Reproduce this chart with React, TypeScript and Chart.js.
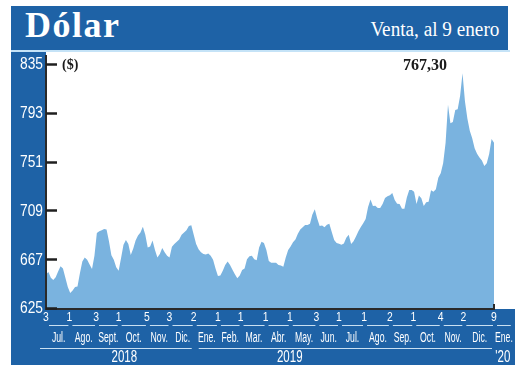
import React, { useEffect, useRef } from 'react';
import { Chart, registerables } from 'chart.js';

Chart.register(...registerables);

// ---------- data ----------
const startDate = '2018-07-03';
const endDate = '2020-01-09';
const sampleStepDays = 3;
const dollarValues: number[] = [
  654, 656, 651, 649, 651.5, 656.5, 661, 659, 651, 643,
  638, 640, 643, 643.5, 655, 665, 668.5, 666.5, 662.5, 658.5,
  670, 689.5, 691, 692, 693, 692.5, 682.5, 670.5, 666.5, 660,
  657, 668, 679.5, 683.5, 680, 670.6, 676, 683, 687.5, 690,
  695, 688, 677, 678, 683, 675, 668.5, 671.5, 676.6, 673,
  670, 668.5, 677.7, 680, 682, 684, 688, 690, 692, 695.5,
  696.3, 688, 680, 675.5, 673, 671.5, 671, 672, 670, 666.5,
  659, 652.5, 653, 657, 662, 665, 662, 658, 654, 650.5,
  653, 657.8, 659, 667, 669.5, 670, 667, 666, 677, 682,
  681, 675, 665.5, 664, 664, 664, 662, 661.5, 660.5, 668.5,
  675, 678, 681.5, 684, 689, 692.5, 694.5, 696.4, 696.5, 697.5,
  705.5, 710, 702, 695.5, 696, 694.5, 696.7, 697.5, 690.5, 683.5,
  681, 680.3, 679.5, 680.5, 685.5, 688, 680, 682.5, 686.5, 691,
  694.7, 698, 701.5, 712, 718.3, 712.8, 713, 711, 711, 714.5,
  719.6, 721.2, 722, 724, 718, 714.7, 714.5, 710.5, 710.5, 720,
  726.6, 726.6, 725, 714.5, 721.8, 719.5, 712.8, 716, 716.5, 726.4,
  725.1, 727.3, 737, 741, 749.5, 767, 800, 784, 785, 795.5,
  796, 807.5, 827, 803, 788, 777.5, 771, 762.5, 757.8, 754.5,
  752, 747.2, 749.5, 757.5, 770.5, 767.3,
];
const yTickValues = [625, 667, 709, 751, 793, 835];
const tickDates = [
  '2018-07-03', '2018-08-01', '2018-09-03', '2018-10-01', '2018-11-05', '2018-12-03',
  '2019-01-02', '2019-02-01', '2019-03-01', '2019-04-01', '2019-05-01', '2019-06-03',
  '2019-07-01', '2019-08-01', '2019-09-02', '2019-10-01', '2019-11-04', '2019-12-02',
  '2020-01-09',
];
const monthNames = [
  'Jul.', 'Ago.', 'Sept.', 'Oct.', 'Nov.', 'Dic.', 'Ene.', 'Feb.', 'Mar.', 'Abr.',
  'May.', 'Jun.', 'Jul.', 'Ago.', 'Sep.', 'Oct.', 'Nov.', 'Dic.', 'Ene.',
];
const lastMonthEnd = '2020-01-31';
const yearNames = ['2018', '2019', "'20"];
const yearFirstMonth = [0, 6, 18];
const yearLabelDates = ['2018-10-08', '2019-05-01', '2020-01-20'];
const titleText = 'Dólar';
const subtitleText = 'Venta, al 9 enero';
const unitText = '($)';
const lastValueText = '767,30';

// ---------- helpers ----------
const dayOf = (s: string) => Math.round((Date.parse(s) - Date.parse(startDate)) / 86400000);
const lastDay = dayOf(endDate);
const points = dollarValues.map((v, i) => ({ x: Math.min(i * sampleStepDays, lastDay), y: v }));
const tickDays = tickDates.map(dayOf);
const tickLabels = tickDates.map((d) => String(Number(d.slice(8, 10))));
const monthBounds = [...tickDays, dayOf(lastMonthEnd)];

const BLUE = '#1e62a6';
const AREA = '#7ab3df';
const LINE_LIGHT = '#c9e0f2';
const SANS = '"Liberation Sans", Arial, sans-serif';
const SERIF = '"Liberation Serif", "Times New Roman", serif';

function narrowText(ctx: CanvasRenderingContext2D, text: string, x: number, y: number, sx: number) {
  ctx.save();
  ctx.translate(x, y);
  ctx.scale(sx, 1);
  ctx.fillText(text, 0, 0);
  ctx.restore();
}

const axisPlugin = {
  id: 'customAxes',
  afterDraw(chart: any) {
    const { ctx, chartArea, scales } = chart;
    const xs = scales.x;
    const ys = scales.y;
    const { left, right, bottom, top } = chartArea;
    ctx.save();
    // axis lines
    ctx.strokeStyle = '#2a2a2a';
    ctx.lineWidth = 2;
    ctx.beginPath();
    ctx.moveTo(left, top - 9);
    ctx.lineTo(left, bottom + 1);
    ctx.lineTo(right, bottom + 1);
    ctx.lineTo(right, bottom - 4);
    ctx.stroke();
    // y tick marks inside the plot and y labels
    ctx.lineWidth = 2.5;
    ctx.strokeStyle = '#1f1f1f';
    ctx.fillStyle = '#ffffff';
    ctx.font = `16px ${SANS}`;
    ctx.textAlign = 'right';
    ctx.textBaseline = 'middle';
    yTickValues.forEach((v) => {
      const yp = ys.getPixelForValue(v);
      const y = Math.round(yp) + 0.5;
      ctx.beginPath();
      ctx.moveTo(left, y);
      ctx.lineTo(left + 11, y);
      ctx.stroke();
      narrowText(ctx, String(v), left - 3, yp + 1, 0.86);
    });
    ctx.textAlign = 'center';
    // day numbers at month starts
    ctx.font = `13px ${SANS}`;
    tickDays.forEach((d, i) => {
      narrowText(ctx, tickLabels[i], xs.getPixelForValue(d), bottom + 9, 0.8);
    });
    // month underlines and names
    const ulY = bottom + 17.5;
    const monY = bottom + 30;
    ctx.strokeStyle = LINE_LIGHT;
    ctx.lineWidth = 1;
    ctx.font = `14px ${SANS}`;
    for (let i = 0; i < monthNames.length; i++) {
      const a = xs.getPixelForValue(monthBounds[i]);
      const b = xs.getPixelForValue(monthBounds[i + 1]);
      ctx.beginPath();
      ctx.moveTo(a + 3, ulY);
      ctx.lineTo(b - 1, ulY);
      ctx.stroke();
      narrowText(ctx, monthNames[i], (a + b) / 2 + 1, monY, 0.62);
    }
    // year lines and labels
    const yrLineY = bottom + 40.5;
    const yrY = bottom + 50;
    ctx.font = `16px ${SANS}`;
    for (let k = 0; k < yearNames.length; k++) {
      const first = yearFirstMonth[k];
      const next = k + 1 < yearFirstMonth.length ? yearFirstMonth[k + 1] : -1;
      if (next > 0) {
        const a = xs.getPixelForValue(monthBounds[first]) + (k === 0 ? -6 : 5);
        const b = xs.getPixelForValue(monthBounds[next]) - 2;
        ctx.beginPath();
        ctx.moveTo(a, yrLineY);
        ctx.lineTo(b, yrLineY);
        ctx.stroke();
      }
      narrowText(ctx, yearNames[k], xs.getPixelForValue(dayOf(yearLabelDates[k])), yrY, 0.72);
    }
    ctx.restore();
  },
};

export default function App() {
  const ref = useRef<HTMLCanvasElement | null>(null);
  useEffect(() => {
    document.body.style.margin = '0';
    const canvas = ref.current;
    if (!canvas) return;
    const chart = new Chart(canvas, {
      type: 'line',
      data: {
        datasets: [
          {
            data: points,
            fill: 'start',
            backgroundColor: AREA,
            borderColor: AREA,
            borderWidth: 0,
            pointRadius: 0,
            tension: 0,
          },
        ],
      },
      options: {
        animation: false,
        responsive: false,
        maintainAspectRatio: false,
        devicePixelRatio: 1,
        layout: { padding: { top: 12, right: 26, bottom: 0, left: 0 } },
        plugins: { legend: { display: false }, tooltip: { enabled: false }, title: { display: false } },
        scales: {
          x: {
            type: 'linear',
            min: 0,
            max: lastDay,
            grid: { display: false, drawTicks: false },
            border: { display: false },
            afterBuildTicks: (s: any) => {
              s.ticks = tickDays.map((v) => ({ value: v }));
            },
            afterFit: (s: any) => {
              s.height = 57;
            },
            ticks: { display: false, autoSkip: false, maxRotation: 0 },
          },
          y: {
            min: 625,
            max: 835,
            grid: { display: false, drawTicks: false },
            border: { display: false },
            afterBuildTicks: (s: any) => {
              s.ticks = yTickValues.map((v) => ({ value: v }));
            },
            afterFit: (s: any) => {
              s.width = 46;
            },
            ticks: { display: false },
          },
        },
      },
      plugins: [axisPlugin],
    });
    return () => chart.destroy();
  }, []);

  return (
    <div style={{ position: 'fixed', left: 0, top: 0, width: 520, height: 379, background: '#ffffff', overflow: 'hidden' }}>
      <div style={{ position: 'absolute', left: 11, top: 6, width: 497, height: 44, background: BLUE }} />
      <div
        style={{
          position: 'absolute', left: 25, top: 7, fontFamily: SERIF, fontWeight: 700, fontSize: 36,
          lineHeight: '36px', color: '#fff', letterSpacing: 1.5, whiteSpace: 'nowrap',
        }}
      >
        {titleText}
      </div>
      <div
        style={{
          position: 'absolute', right: 21, top: 19, fontFamily: SERIF, fontSize: 20, lineHeight: '20px',
          color: '#fff', whiteSpace: 'nowrap', transform: 'scaleX(0.96)', transformOrigin: 'right center',
        }}
      >
        {subtitleText}
      </div>
      <div style={{ position: 'absolute', left: 11, top: 50, width: 499, height: 2, background: '#c5e3f7' }} />
      <div style={{ position: 'absolute', left: 11, top: 52, width: 35, height: 313, background: BLUE }} />
      <div style={{ position: 'absolute', left: 11, top: 309, width: 504, height: 56, background: BLUE }} />
      <canvas ref={ref} width={520} height={313} style={{ position: 'absolute', left: 0, top: 52, width: 520, height: 313 }} />
      <div
        style={{
          position: 'absolute', left: 62, top: 58, fontFamily: SERIF, fontWeight: 700, fontSize: 14,
          lineHeight: '14px', color: '#1a1a1a', whiteSpace: 'nowrap',
        }}
      >
        {unitText}
      </div>
      <div
        style={{
          position: 'absolute', left: 403, top: 57, fontFamily: SERIF, fontWeight: 700, fontSize: 16,
          lineHeight: '16px', color: '#1a1a1a', whiteSpace: 'nowrap',
        }}
      >
        {lastValueText}
      </div>
    </div>
  );
}
